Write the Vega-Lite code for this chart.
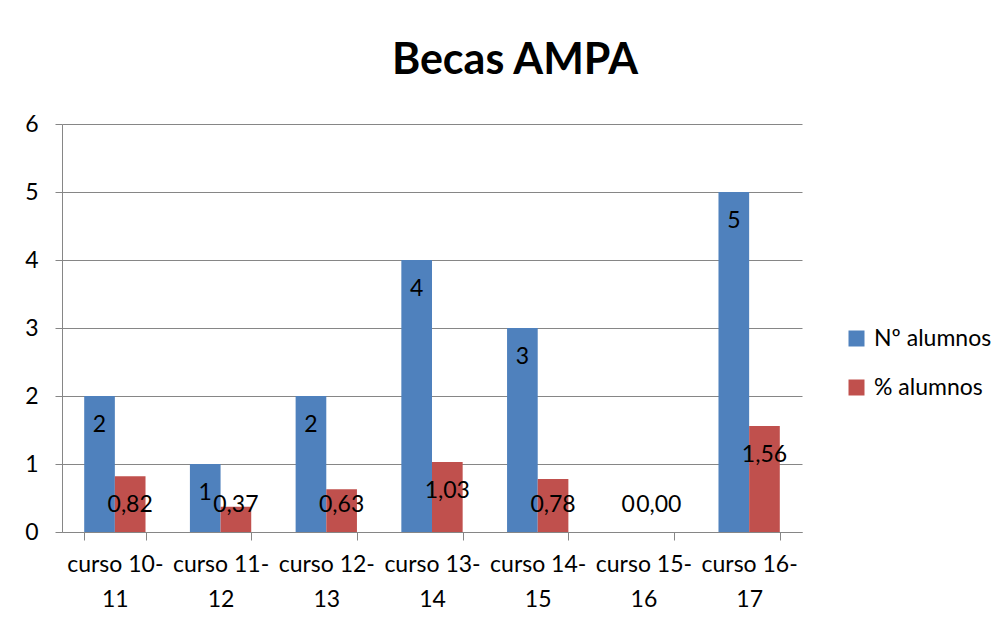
{
  "$schema": "https://vega.github.io/schema/vega-lite/v6.json",
  "width": 740,
  "height": 408,
  "autosize": {"type": "none"},
  "padding": {"left": 62, "top": 124, "right": 206, "bottom": 92},
  "background": "white",
  "config": {
    "font": "Lato",
    "view": {"stroke": null},
    "axis": {
      "domainColor": "#868686",
      "tickColor": "#868686",
      "gridColor": "#868686",
      "labelColor": "black",
      "labelFont": "Lato",
      "labelFontSize": 23,
      "title": null
    }
  },
  "title": {
    "text": "Becas AMPA",
    "font": "Lato",
    "fontSize": 43,
    "fontWeight": "bold",
    "color": "black",
    "anchor": "middle",
    "frame": "group",
    "dx": 83,
    "offset": 30
  },
  "data": {
    "values": [
      {"curso": "curso 10-11", "serie": "Nº alumnos", "valor": 2, "label": "2"},
      {"curso": "curso 10-11", "serie": "% alumnos", "valor": 0.82, "label": "0,82"},
      {"curso": "curso 11-12", "serie": "Nº alumnos", "valor": 1, "label": "1"},
      {"curso": "curso 11-12", "serie": "% alumnos", "valor": 0.37, "label": "0,37"},
      {"curso": "curso 12-13", "serie": "Nº alumnos", "valor": 2, "label": "2"},
      {"curso": "curso 12-13", "serie": "% alumnos", "valor": 0.63, "label": "0,63"},
      {"curso": "curso 13-14", "serie": "Nº alumnos", "valor": 4, "label": "4"},
      {"curso": "curso 13-14", "serie": "% alumnos", "valor": 1.03, "label": "1,03"},
      {"curso": "curso 14-15", "serie": "Nº alumnos", "valor": 3, "label": "3"},
      {"curso": "curso 14-15", "serie": "% alumnos", "valor": 0.78, "label": "0,78"},
      {"curso": "curso 15-16", "serie": "Nº alumnos", "valor": 0, "label": "0"},
      {"curso": "curso 15-16", "serie": "% alumnos", "valor": 0, "label": "0,00"},
      {"curso": "curso 16-17", "serie": "Nº alumnos", "valor": 5, "label": "5"},
      {"curso": "curso 16-17", "serie": "% alumnos", "valor": 1.56, "label": "1,56"}
    ]
  },
  "encoding": {
    "x": {
      "field": "curso",
      "type": "nominal",
      "sort": null,
      "scale": {"paddingInner": 0.42, "paddingOuter": 0.21},
      "axis": {
        "labelAngle": 0,
        "tickBand": "extent",
        "tickSize": 8,
        "labelPadding": 13,
        "labelBaseline": "top",
        "labelLineHeight": 35,
        "labelExpr": "isValid(datum.value) ? [substring(datum.value, 0, 9), substring(datum.value, 9)] : ''"
      }
    },
    "xOffset": {"field": "serie", "type": "nominal", "sort": ["Nº alumnos", "% alumnos"]},
    "y": {
      "field": "valor",
      "type": "quantitative",
      "scale": {"domain": [0, 6], "nice": false},
      "axis": {"values": [0, 1, 2, 3, 4, 5, 6], "grid": true, "tickSize": 7, "labelPadding": 17}
    }
  },
  "layer": [
    {
      "mark": {"type": "bar"},
      "encoding": {
        "color": {
          "field": "serie",
          "type": "nominal",
          "scale": {"domain": ["Nº alumnos", "% alumnos"], "range": ["#4F81BD", "#C0504D"]},
          "legend": {
            "title": null,
            "orient": "none",
            "legendX": 783,
            "legendY": 203,
            "padding": 0,
            "symbolType": "square",
            "symbolSize": 256,
            "symbolStrokeWidth": 0,
            "labelFont": "Lato",
            "labelFontSize": 23,
            "labelColor": "black",
            "labelOffset": 6,
            "rowPadding": 25
          }
        }
      }
    },
    {
      "transform": [{"filter": "datum.valor >= 0.8"}],
      "mark": {"type": "text", "baseline": "middle", "dy": 29, "fontSize": 23, "font": "Lato", "color": "black"},
      "encoding": {"text": {"field": "label"}}
    },
    {
      "transform": [{"filter": "datum.valor < 0.8"}],
      "mark": {"type": "text", "baseline": "middle", "dy": -27, "fontSize": 23, "font": "Lato", "color": "black"},
      "encoding": {"y": {"datum": 0}, "text": {"field": "label"}}
    }
  ]
}
